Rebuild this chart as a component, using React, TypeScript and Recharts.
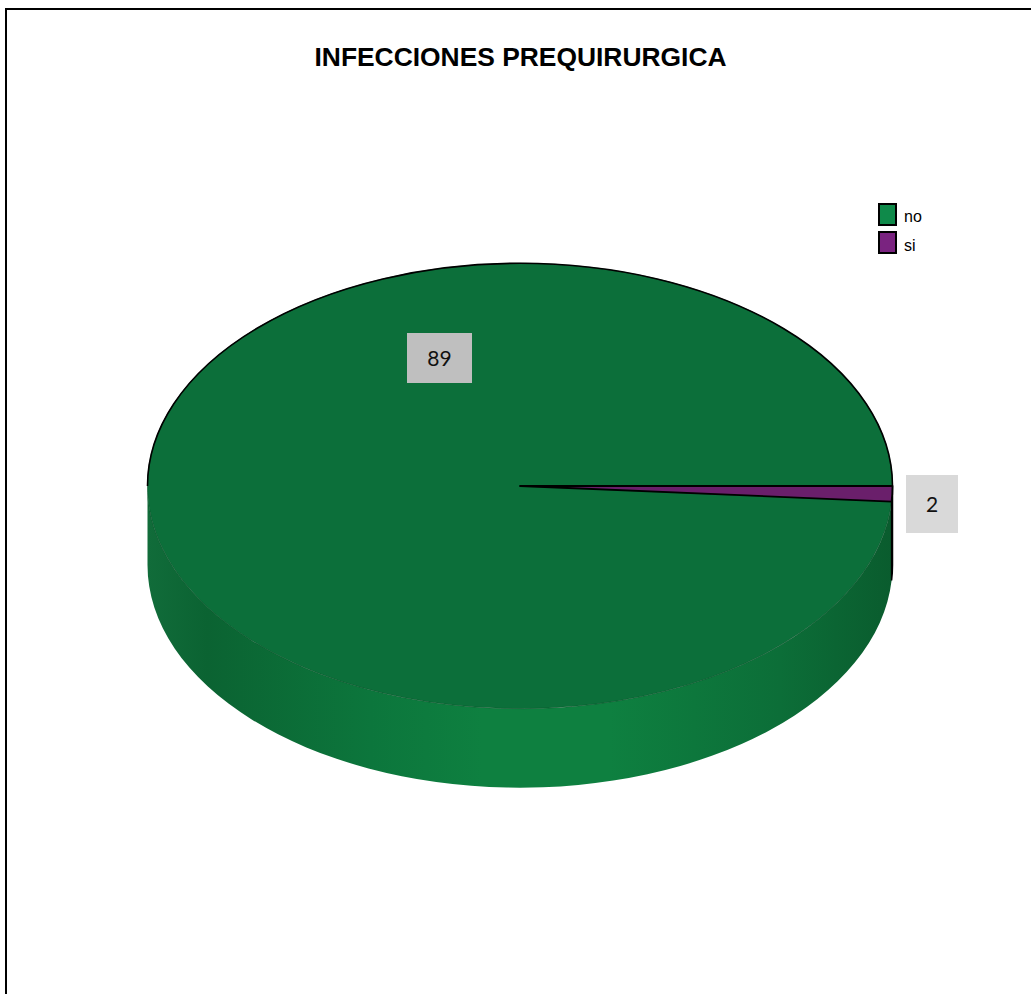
import React from "react";
import { PieChart, Pie, Legend, Customized } from "recharts";

const TITLE = "INFECCIONES PREQUIRURGICA";
const categories = ["no", "si"];
// Wedge sizes (the "si" wedge spans about 4 degrees).
const drawnValues = [89, 1];
// Values as printed on the data labels.
const labelTexts = ["89", "2"];
const faceColors = ["#0C6F3A", "#6A1F6B"];
const sideColors = ["url(#sideGreen)", "#3c0f3c"];
const legendColors = ["#0F8A4A", "#7A2380"];

const rows = categories.map((name, i) => ({
  name,
  value: drawnValues[i],
  fill: faceColors[i],
  sideFill: sideColors[i],
}));

const W = 1031;
const H = 994;
const CX = 520;
const CY = 486;
const RX = 372.5;
const SQUASH = 223 / 373;
const DEPTH = 79;
const total = drawnValues.reduce((a, b) => a + b, 0);
const START = (-360 * drawnValues[1]) / total;

const labelBoxes = [
  { x: 407, y: 333, w: 65, h: 50, fill: "#BFBFBF" },
  { x: 906, y: 475, w: 52, h: 58, fill: "#D9D9D9" },
];

const pt = (a: number, rx: number, ry: number, dy = 0) => {
  const r = (a * Math.PI) / 180;
  return [CX + rx * Math.cos(r), CY - ry * Math.sin(r) + dy];
};
const f = (n: number) => n.toFixed(2);

function arcTo(a0: number, a1: number, rx: number, ry: number, dy = 0, sweep = 1) {
  const p = pt(a1, rx, ry, dy);
  const large = Math.abs(a1 - a0) > 180 ? 1 : 0;
  return `A${rx} ${f(ry)} 0 ${large} ${sweep} ${f(p[0])} ${f(p[1])}`;
}

function EllipseSector(props: any) {
  const rx = props.outerRadius as number;
  const ry = rx * SQUASH;
  const a0 = props.startAngle as number;
  const a1 = props.endAngle as number;
  const isNo = props.name === categories[0];
  // Angles run clockwise and negative; the near wall lies in (-180, 0) modulo 360.
  const s0 = isNo ? a0 : a0 + 360;
  const s1 = isNo ? -180 : a1 + 360;
  const p0 = pt(s0, rx, ry);
  const pBottom = pt(s1, rx, ry, DEPTH);
  const side =
    `M${f(p0[0])} ${f(p0[1])} ` +
    arcTo(s0, s1, rx, ry) +
    ` L${f(pBottom[0])} ${f(pBottom[1])} ` +
    arcTo(s1, s0, rx, ry, DEPTH, 0) +
    " Z";
  const pStart = pt(a0, rx, ry);
  const face = `M${CX} ${CY} L${f(pStart[0])} ${f(pStart[1])} ` + arcTo(a0, a1, rx, ry) + " Z";
  const pWest = pt(-180, rx, ry);
  const upper = `M${f(pWest[0])} ${f(pWest[1])} ` + arcTo(-180, -360, rx, ry);
  return (
    <g>
      <defs>
        <linearGradient id="sideGreen" x1="0" y1="0" x2="1" y2="0">
          <stop offset="0" stopColor="#116C3A" />
          <stop offset="0.08" stopColor="#0B6332" />
          <stop offset="0.3" stopColor="#0C763C" />
          <stop offset="0.45" stopColor="#0E8040" />
          <stop offset="0.62" stopColor="#0E8040" />
          <stop offset="0.85" stopColor="#0C6E38" />
          <stop offset="1" stopColor="#0A5C2E" />
        </linearGradient>
      </defs>
      <path
        d={side}
        fill={props.sideFill}
        stroke={isNo ? "none" : "#000"}
        strokeWidth={isNo ? 0 : 1.5}
      />
      {isNo ? (
        <>
          <path d={face} fill={props.fill} stroke="#0A5029" strokeWidth={0.6} />
          <path d={upper} fill="none" stroke="#000" strokeWidth={1.6} />
        </>
      ) : (
        <path d={face} fill={props.fill} stroke="#000" strokeWidth={1.8} strokeLinejoin="round" />
      )}
    </g>
  );
}

function DataLabel(props: any) {
  const i = props.index as number;
  const b = labelBoxes[i];
  return (
    <g>
      <rect x={b.x} y={b.y} width={b.w} height={b.h} fill={b.fill} />
      <text
        x={b.x + b.w / 2}
        y={b.y + b.h / 2 - 1}
        textAnchor="middle"
        dominantBaseline="central"
        fontFamily="Lato, 'Open Sans', sans-serif"
        fontSize={21}
        fill="#111"
      >
        {labelTexts[i]}
      </text>
    </g>
  );
}

function LegendBox(props: any) {
  const items = props.payload ?? [];
  return (
    <div style={{ position: "relative", width: 80, height: 56 }}>
      {items.map((it: any, i: number) => (
        <div
          key={it.value}
          style={{ position: "absolute", left: 0, top: i * 28, height: 23, display: "flex", alignItems: "center" }}
        >
          <span
            style={{
              display: "inline-block",
              boxSizing: "border-box",
              width: 19,
              height: 23,
              background: legendColors[i],
              border: "2px solid #000",
            }}
          />
          <span
            style={{
              position: "relative",
              top: 2 + i,
              marginLeft: 7,
              fontFamily: "'Liberation Sans', Arial, sans-serif",
              fontSize: 16,
              color: "#000",
            }}
          >
            {it.value}
          </span>
        </div>
      ))}
    </div>
  );
}

function Title() {
  return (
    <text
      x={520.5}
      y={66}
      textAnchor="middle"
      fontFamily="'Liberation Sans', Arial, sans-serif"
      fontWeight="bold"
      fontSize={26.4}
      fill="#000"
    >
      {TITLE}
    </text>
  );
}

export default function App() {
  return (
    <div style={{ position: "absolute", left: 0, top: 0, width: W, height: H, background: "#fff", overflow: "hidden" }}>
      <div style={{ position: "absolute", left: 5, top: 8, width: W, height: 2, background: "#000" }} />
      <div style={{ position: "absolute", left: 5, top: 8, width: 2, height: H, background: "#000" }} />
      <PieChart width={W} height={H} margin={{ top: 0, right: 0, bottom: 0, left: 0 }} style={{ position: "absolute", left: 0, top: 0 }}>
        <Customized component={Title} />
        <Pie
          data={rows}
          dataKey="value"
          nameKey="name"
          cx={CX}
          cy={CY}
          innerRadius={0}
          outerRadius={RX}
          startAngle={START}
          endAngle={START - 360}
          paddingAngle={0}
          stroke="none"
          isAnimationActive={false}
          shape={EllipseSector}
          label={DataLabel}
          labelLine={false}
        />
        <Legend
          content={LegendBox}
          layout="vertical"
          align="right"
          verticalAlign="top"
          wrapperStyle={{ position: "absolute", left: 878, top: 203, width: 80, height: 56 }}
        />
      </PieChart>
    </div>
  );
}
